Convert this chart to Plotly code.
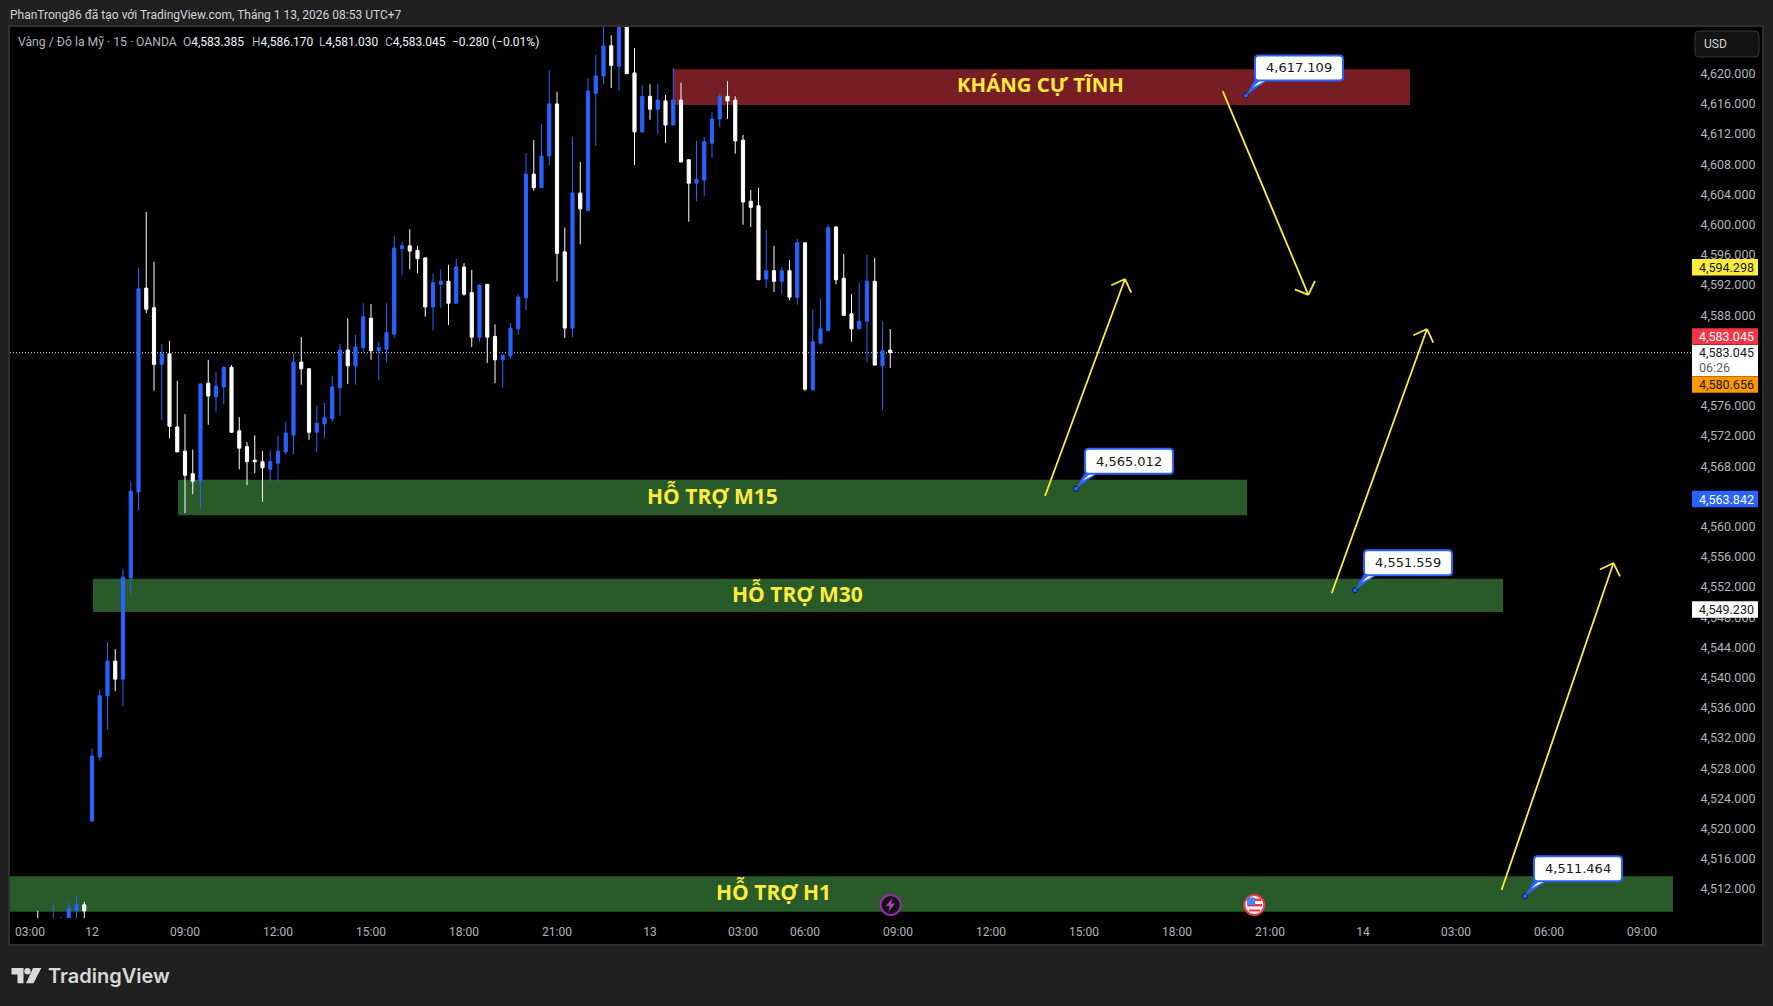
import plotly.graph_objects as go

# nen M15 doc tu anh
opens = [4507.5, 4508.0, 4506.5, 4507.0, 4507.0, 4507.6, 4509.2, 4509.9,
         4521.0, 4529.5, 4537.6, 4542.2, 4539.8, 4553.2, 4564.6, 4591.6, 4589.0, 4581.5, 4582.9, 4573.2,
         4570.0, 4567.0, 4566.0, 4579.0, 4577.2, 4578.5, 4581.1, 4572.7, 4570.6, 4568.8,
         4568.6, 4567.6, 4568.4, 4569.9, 4572.1, 4581.8, 4580.9, 4572.5, 4573.6, 4574.3,
         4578.4, 4583.4, 4581.3, 4583.7, 4587.6, 4583.3, 4583.5, 4585.5, 4596.8, 4597.2,
         4596.6, 4595.6, 4589.1, 4592.1, 4592.5, 4589.6, 4594.4, 4591.0, 4585.1, 4592.1,
         4585.2, 4582.1, 4582.6, 4586.2, 4590.3, 4606.7, 4604.9, 4609.1, 4616.0, 4596.4,
         4586.3, 4604.2, 4601.9, 4617.4, 4619.7, 4623.7, 4621.0, 4627.0, 4620.1, 4612.3,
         4617.0, 4615.3, 4616.4, 4613.2, 4616.5, 4608.6, 4605.5, 4605.9, 4610.8, 4614.0,
         4617.0, 4616.5, 4611.2, 4603.1, 4602.5, 4592.8, 4593.9, 4592.5, 4593.9, 4590.4,
         4597.6, 4578.1, 4584.3, 4586.0, 4599.7, 4592.9, 4588.2, 4586.2, 4587.2, 4592.5,
         4581.3, 4583.385]
highs = [4508.0, 4509.1, 4507.8, 4509.9, 4508.3, 4510.2, 4511.1, 4510.3,
         4530.6, 4538.4, 4544.7, 4543.8, 4554.4, 4566.0, 4594.3, 4601.7, 4595.1, 4584.2, 4584.6, 4579.3,
         4574.9, 4570.2, 4579.0, 4582.1, 4580.5, 4581.3, 4581.4, 4574.5, 4571.2, 4572.1,
         4570.0, 4570.1, 4572.0, 4573.9, 4583.0, 4585.1, 4581.0, 4576.0, 4576.4, 4580.0,
         4584.2, 4587.6, 4585.4, 4589.6, 4589.5, 4584.5, 4589.6, 4598.5, 4597.7, 4599.4,
         4597.2, 4595.7, 4593.5, 4594.1, 4594.7, 4595.5, 4594.9, 4594.0, 4592.1, 4592.1,
         4586.8, 4582.7, 4587.0, 4590.8, 4609.5, 4611.2, 4613.3, 4620.5, 4617.6, 4599.6,
         4611.6, 4608.3, 4619.4, 4622.5, 4626.8, 4625.1, 4628.0, 4628.0, 4623.4, 4618.5,
         4618.6, 4618.6, 4617.2, 4620.8, 4618.8, 4608.7, 4611.1, 4611.6, 4614.9, 4617.4,
         4619.0, 4617.0, 4611.9, 4604.6, 4604.9, 4599.3, 4597.2, 4594.4, 4595.3, 4598.1,
         4597.6, 4588.7, 4590.2, 4600.0, 4599.8, 4596.1, 4590.8, 4592.4, 4596.0, 4595.6,
         4587.2, 4586.170]
lows = [4506.5, 4506.5, 4506.0, 4506.5, 4506.8, 4507.2, 4507.9, 4507.9,
        4520.9, 4529.0, 4533.1, 4538.2, 4536.2, 4551.1, 4562.2, 4588.3, 4578.0, 4574.1, 4571.7, 4569.9,
        4561.8, 4564.3, 4562.5, 4573.5, 4575.1, 4576.2, 4572.5, 4567.6, 4565.5, 4567.1,
        4563.3, 4566.0, 4566.0, 4569.6, 4569.6, 4578.8, 4571.5, 4569.8, 4571.7, 4573.9,
        4574.7, 4578.9, 4578.8, 4583.1, 4582.1, 4579.4, 4581.8, 4585.0, 4593.3, 4594.1,
        4593.6, 4587.8, 4586.0, 4589.0, 4586.7, 4589.6, 4590.6, 4583.8, 4584.5, 4581.7,
        4579.0, 4578.4, 4582.2, 4585.4, 4588.7, 4604.5, 4604.9, 4607.9, 4592.5, 4585.0,
        4585.1, 4597.4, 4601.9, 4610.4, 4618.6, 4618.1, 4617.7, 4620.0, 4607.9, 4612.1,
        4613.9, 4612.0, 4610.8, 4613.2, 4608.3, 4600.4, 4603.1, 4603.8, 4608.8, 4612.9,
        4614.0, 4609.4, 4600.0, 4599.7, 4592.7, 4591.6, 4591.1, 4590.8, 4590.0, 4589.4,
        4578.0, 4578.1, 4584.1, 4586.0, 4592.1, 4588.0, 4584.5, 4586.2, 4581.7, 4581.4,
        4575.5, 4581.030]
closes = [4507.0, 4507.5, 4507.5, 4507.9, 4507.6, 4509.4, 4509.9, 4509.1,
          4529.6, 4537.6, 4542.2, 4539.8, 4553.3, 4564.7, 4591.5, 4588.8, 4581.5, 4582.9, 4573.3, 4569.9,
          4566.8, 4566.0, 4578.9, 4577.3, 4578.6, 4581.1, 4572.5, 4570.4, 4568.6, 4568.6,
          4567.8, 4568.6, 4570.0, 4572.4, 4581.8, 4580.9, 4572.5, 4573.7, 4574.4, 4578.5,
          4583.4, 4581.3, 4583.8, 4587.8, 4583.3, 4583.7, 4585.7, 4596.9, 4597.2, 4596.5,
          4595.5, 4589.1, 4592.3, 4592.5, 4589.6, 4594.4, 4590.8, 4585.1, 4592.0, 4585.1,
          4582.1, 4582.7, 4586.3, 4590.4, 4606.7, 4604.9, 4609.1, 4616.0, 4596.2, 4586.3,
          4604.2, 4602.1, 4617.7, 4619.7, 4623.7, 4621.1, 4627.0, 4620.0, 4612.3, 4617.0,
          4615.3, 4616.5, 4613.2, 4616.5, 4608.3, 4605.5, 4606.0, 4611.0, 4614.0, 4617.0,
          4616.4, 4611.1, 4603.0, 4602.3, 4592.7, 4593.9, 4592.5, 4593.9, 4590.4, 4597.6,
          4578.2, 4584.5, 4586.2, 4599.6, 4592.7, 4588.0, 4586.2, 4587.2, 4592.5, 4581.4,
          4583.3, 4583.045]

# nhan truc thoi gian
time_ticks = [0, 8, 20, 32, 44, 56, 68, 80, 92, 100, 112, 124, 136, 148, 160, 172, 184, 196, 208]
time_labels = ["03:00", "12", "09:00", "12:00", "15:00", "18:00", "21:00", "13", "03:00", "06:00",
               "09:00", "12:00", "15:00", "18:00", "21:00", "14", "03:00", "06:00", "09:00"]
# 4564, 4580, 4584 bi bang gia che kin nen bo
price_ticks = [4512, 4516, 4520, 4524, 4528, 4532, 4536, 4540, 4544, 4548, 4552, 4556, 4560,
               4568, 4572, 4576, 4588, 4592, 4596, 4600, 4604, 4608, 4612, 4616, 4620]

last_price = 4583.045

# vung ho tro / khang cu
zone_names = ["KHÁNG CỰ TĨNH", "HỖ TRỢ M15", "HỖ TRỢ M30", "HỖ TRỢ H1"]
zone_x0 = [82.97, 19.1, 8.13, -10]
zone_x1 = [178.06, 157.03, 190.06, 212]
zone_lo = [4615.85, 4561.5, 4548.7, 4509.0]
zone_hi = [4620.6, 4566.2, 4553.1, 4513.7]
zone_colors = ["#771e25", "#295b2a", "#295b2a", "#295b2a"]
zone_text_x = [130.4, 88.0, 98.97, 95.9]
zone_text_y = [4618.6, 4564.15, 4551.13, 4511.73]

# mui ten: diem dau, dinh, canh trai, canh phai
arrow_x = [[130.97, 141.29, 139.53, 142.1],
           [153.9, 164.95, 163.2, 165.8],
           [167.96, 180.26, 178.5, 181.07],
           [189.88, 204.32, 202.58, 205.16]]
arrow_y = [[4564.06, 4592.8, 4591.97, 4591.0],
           [4617.7, 4590.7, 4591.44, 4592.54],
           [4551.17, 4586.18, 4585.35, 4584.38],
           [4511.87, 4555.18, 4554.32, 4553.4]]

# nhan gia: cham tren chart va chu tren nhan
callout_x = [156.9, 134.97, 170.97, 192.9]
callout_y = [4617.109, 4565.012, 4551.559, 4511.05]
callout_text = ["4,617.109", "4,565.012", "4,551.559", "4,511.464"]

W, H = 1773, 1006
L, R, T, B = 10, 1692, 27, 918
PANE_R, PANE_B = 1763, 945


def px(x):
    return (x - L) / (R - L)


def py(y):
    return (B - y) / (B - T)


def rect(x0, y0, x1, y1, fill, line=None, width=0, layer="above"):
    return dict(type="rect", xref="paper", yref="paper", x0=px(x0), x1=px(x1), y0=py(y0), y1=py(y1),
                fillcolor=fill, line=dict(color=line or fill, width=width), layer=layer)


def circle(cx, cy, r, fill, line=None, width=0):
    return dict(type="circle", xref="paper", yref="paper", x0=px(cx - r), x1=px(cx + r),
                y0=py(cy + r), y1=py(cy - r), fillcolor=fill, line=dict(color=line or fill, width=width),
                layer="above")


def poly(points, fill):
    d = "M " + " L ".join(f"{px(a)},{py(b)}" for a, b in points) + " Z"
    return dict(type="path", xref="paper", yref="paper", path=d, fillcolor=fill, line=dict(width=0), layer="above")


def round_path(x0, y0, x1, y1, r, fx=lambda v: v, fy=lambda v: v):
    # y0 < y1 o he toa do dang dung
    return (f"M {fx(x0 + r)},{fy(y0)} L {fx(x1 - r)},{fy(y0)} Q {fx(x1)},{fy(y0)} {fx(x1)},{fy(y0 + r)} "
            f"L {fx(x1)},{fy(y1 - r)} Q {fx(x1)},{fy(y1)} {fx(x1 - r)},{fy(y1)} "
            f"L {fx(x0 + r)},{fy(y1)} Q {fx(x0)},{fy(y1)} {fx(x0)},{fy(y1 - r)} "
            f"L {fx(x0)},{fy(y0 + r)} Q {fx(x0)},{fy(y0)} {fx(x0 + r)},{fy(y0)} Z")


def label(x, y, text, color="#b2b5be", size=12, anchor="left", family="Roboto", weight=None):
    return dict(xref="paper", yref="paper", x=px(x), y=py(y), text=text, showarrow=False, xanchor=anchor,
                yanchor="middle", font=dict(family=family, size=size, color=color, weight=weight),
                borderpad=0, borderwidth=0)


fig = go.Figure()

fig.add_trace(go.Candlestick(
    x=list(range(len(opens))), open=opens, high=highs, low=lows, close=closes,
    increasing=dict(line=dict(color="#2962ff", width=1), fillcolor="#2962ff"),
    decreasing=dict(line=dict(color="#ffffff", width=1), fillcolor="#ffffff"),
    whiskerwidth=0, showlegend=False, hoverinfo="skip",
))

# mui ten vang
for ax, ay in zip(arrow_x, arrow_y):
    fig.add_trace(go.Scatter(
        x=[ax[0], ax[1], ax[2], None, ax[1], ax[3]],
        y=[ay[0], ay[1], ay[2], None, ay[1], ay[3]],
        mode="lines", line=dict(color="#ffeb3b", width=1.8), showlegend=False, hoverinfo="skip",
    ))

shapes = []
# khung nen
shapes.append(rect(L - 1, T - 1, PANE_R, PANE_B, "#000000", "#2e2e2e", 2, layer="below"))

for i in range(len(zone_names)):
    shapes.append(dict(type="rect", xref="x", yref="y", x0=zone_x0[i], x1=zone_x1[i],
                       y0=zone_lo[i], y1=zone_hi[i], fillcolor=zone_colors[i], line=dict(width=0), layer="below"))

shapes.append(dict(type="line", xref="paper", yref="y", x0=0, x1=1, y0=last_price, y1=last_price,
                   line=dict(color="#d8d8d8", width=1, dash="1px,2px"), layer="below"))

# hop nhan gia va duoi nhon, kich thuoc tinh bang pixel quanh diem gia
for cx, cy in zip(callout_x, callout_y):
    common = dict(type="path", xref="x", yref="y", xsizemode="pixel", ysizemode="pixel",
                  xanchor=cx, yanchor=cy, layer="above")
    shapes.append(dict(common, path="M 0,0 L 8.5,15.5 L 22,15.5 Z", fillcolor="#2962ff", line=dict(width=0)))
    shapes.append(dict(common, path="M 6.5,8 L 14,15 L 20,15 Z", fillcolor="#ffffff", line=dict(width=0)))
    shapes.append(dict(common, path=round_path(9, 15, 97, 40, 3.5), fillcolor="#ffffff",
                       line=dict(color="#2962ff", width=2)))

# bang gia ben phai
badges = [(267.3, "4,594.298", "#ffeb3b", "#131722"),
          (336.5, "4,583.045", "#f23645", "#ffffff"),
          (384.5, "4,580.656", "#ff9800", "#131722"),
          (499.0, "4,563.842", "#2962ff", "#ffffff"),
          (609.5, "4,549.230", "#ffffff", "#131722")]
annotations = []
for yb, txt, bg, fg in badges:
    shapes.append(rect(1692, yb - 8.3, 1758, yb + 8.3, bg))
    annotations.append(label(1699, yb, txt, color=fg, size=12.5))
shapes.append(rect(1692, 345, 1758, 376, "#ffffff"))
annotations.append(label(1699, 352.7, "4,583.045", color="#131722", size=12.5))
annotations.append(label(1699, 367, "06:26", color="#5d606b", size=12.5))

# nut USD
shapes.append(dict(type="path", xref="paper", yref="paper", path=round_path(1695, 31, 1759, 57, 4, px, py),
                   fillcolor="#131313", line=dict(color="#363636", width=1), layer="above"))
annotations.append(label(1704, 44, "USD", color="#d1d4dc"))

# bieu tuong su kien
shapes.append(circle(890.7, 905, 10, "#131313", "#9c27b0", 2))
shapes.append(poly([(892.5, 898), (886, 906), (890, 906), (888.5, 912), (895, 903.5), (891, 903.5)], "#ab47bc"))
shapes.append(circle(1254.3, 905, 10, "#ffffff", "#f23645", 2))
shapes.append(rect(1249, 898.5, 1261, 901, "#f23645"))
shapes.append(rect(1247.5, 904, 1262, 906.5, "#f23645"))
shapes.append(rect(1249, 909.5, 1260, 911.5, "#f23645"))
shapes.append(rect(1247, 897.5, 1255, 905, "#3d8bf2"))

# logo
shapes.append(poly([(11.5, 968), (23.5, 968), (23.5, 983.3), (17.5, 983.3), (17.5, 974.5), (11.5, 974.5)], "#d9d9d9"))
shapes.append(circle(27.5, 971.2, 3.2, "#d9d9d9"))
shapes.append(poly([(33, 968), (41.3, 968), (33.5, 983.3), (26, 983.3)], "#d9d9d9"))
annotations.append(label(48, 975.5, "TradingView", color="#d9d9d9", size=20, family="Inter", weight=600))

# tieu de
annotations.append(label(10, 15, "PhanTrong86 đã tạo với TradingView.com, Tháng 1 13, 2026 08:53 UTC+7", color="#d1d4dc"))
annotations.append(label(18, 42, "Vàng / Đô la Mỹ · 15 · OANDA", color="#b2b5be", size=12.2))
for xt, key, val in [(183, "O", "4,583.385"), (252, "H", "4,586.170"), (319, "L", "4,581.030"), (385, "C", "4,583.045")]:
    annotations.append(label(xt, 42, f"<span style='color:#b2b5be'>{key}</span>{val}", color="#f0f3fa"))
annotations.append(label(452, 42, "−0.280 (−0.01%)", color="#f0f3fa"))

# chu tren vung
zone_sizes = [20.4, 21, 21, 21]
for i, name in enumerate(zone_names):
    annotations.append(dict(xref="x", yref="y", x=zone_text_x[i], y=zone_text_y[i], text=name, showarrow=False,
                            font=dict(family="Open Sans", size=zone_sizes[i], color="#ffeb3b", weight=700)))

# chu trong hop nhan gia
for cx, cy, txt in zip(callout_x, callout_y, callout_text):
    annotations.append(dict(xref="x", yref="y", x=cx, y=cy, text=txt, showarrow=False,
                            xshift=53, yshift=27.6, font=dict(family="DejaVu Sans", size=13, color="#131722")))

fig.add_trace(go.Scatter(
    x=callout_x, y=callout_y, mode="markers",
    marker=dict(size=5, color="#2962ff", line=dict(color="#0b1c4d", width=1)),
    showlegend=False, hoverinfo="skip",
))

fig.update_layout(
    width=W, height=H, autosize=False,
    margin=dict(l=L, r=W - R, t=T, b=H - B, pad=0),
    paper_bgcolor="#202020", plot_bgcolor="#000000",
    showlegend=False, boxgap=0.42,
    shapes=shapes, annotations=annotations,
    font=dict(family="Roboto", size=12, color="#b2b5be"),
    xaxis=dict(
        range=[(L - 30) / 7.75, (R - 30) / 7.75], rangeslider=dict(visible=False),
        tickmode="array", tickvals=time_ticks, ticktext=time_labels,
        showgrid=False, zeroline=False, showline=False, ticks="outside", ticklen=3, tickcolor="rgba(0,0,0,0)",
        tickfont=dict(family="Roboto", size=12, color="#b2b5be"),
    ),
    yaxis=dict(
        side="right", range=[4620 - (B - 73.7) / 7.549, 4620 - (T - 73.7) / 7.549],
        tickmode="array", tickvals=price_ticks, tickformat=",.3f",
        showgrid=False, zeroline=False, showline=False, ticks="outside", ticklen=5, tickcolor="rgba(0,0,0,0)",
        tickfont=dict(family="Roboto", size=12.5, color="#b2b5be"),
    ),
)

fig.write_html("out.html", config=dict(displayModeBar=False),
               post_script="document.body.style.margin='0';document.body.style.background='#202020';")
